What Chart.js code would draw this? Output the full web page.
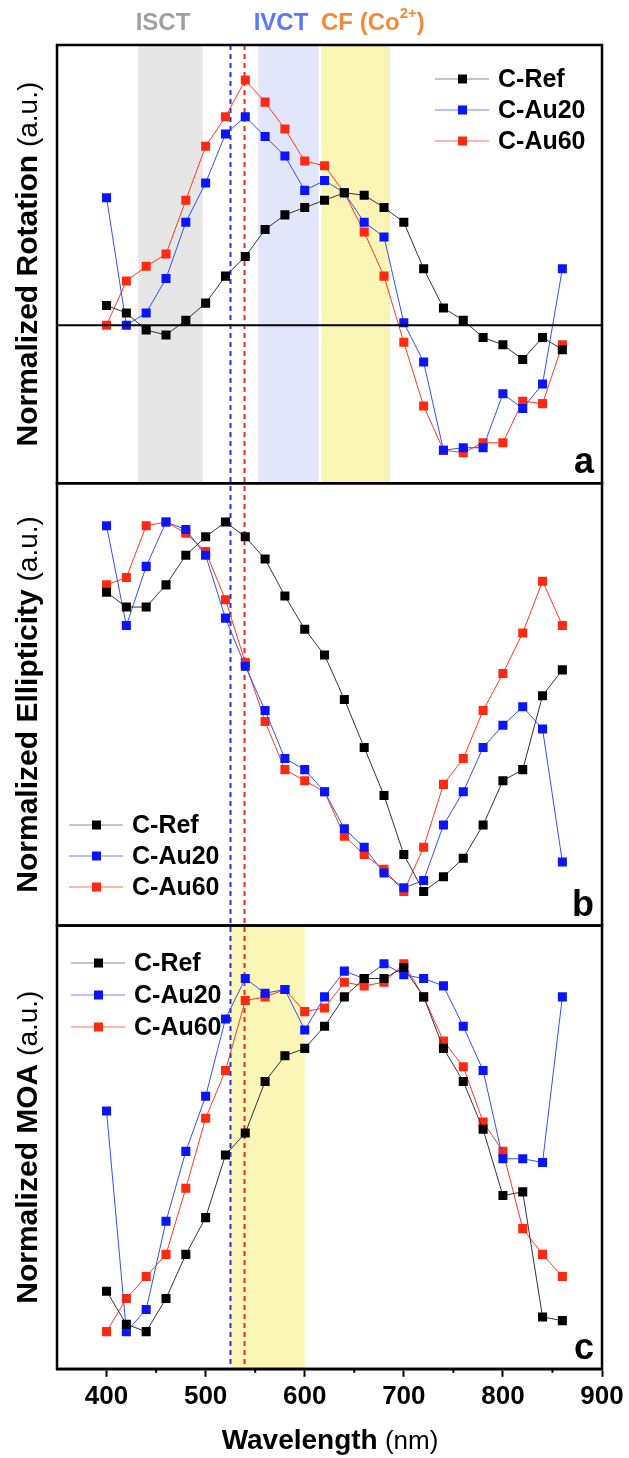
<!DOCTYPE html>
<html>
<head>
<meta charset="utf-8">
<script src="https://cdn.jsdelivr.net/npm/chart.js@4.4.1/dist/chart.umd.min.js"></script>
<style>
  html, body { margin: 0; padding: 0; background: #fff; }
  #wrap { width: 629px; height: 1458px; }
</style>
</head>
<body>
<div id="wrap"><canvas id="moaChart" width="629" height="1458"></canvas></div>
<script>
// wavelength grid (nm)
const wavelengths = [400, 420, 440, 460, 480, 500, 520, 540, 560, 580, 600, 620,
                     640, 660, 680, 700, 720, 740, 760, 780, 800, 820, 840, 860];

// (a) normalized rotation
const rotRef  = [0.08, 0.05, -0.02, -0.04, 0.02, 0.09, 0.20, 0.28, 0.39, 0.45, 0.48, 0.51,
                 0.54, 0.53, 0.48, 0.42, 0.23, 0.07, 0.02, -0.05, -0.08, -0.14, -0.05, -0.10];
const rotAu20 = [0.52, 0.00, 0.05, 0.19, 0.42, 0.58, 0.78, 0.85, 0.77, 0.69, 0.55, 0.59,
                 0.54, 0.42, 0.36, 0.01, -0.15, -0.51, -0.50, -0.50, -0.28, -0.34, -0.24, 0.23];
const rotAu60 = [0.00, 0.18, 0.24, 0.29, 0.51, 0.73, 0.85, 1.00, 0.91, 0.80, 0.67, 0.65,
                 0.54, 0.38, 0.20, -0.07, -0.33, -0.51, -0.52, -0.48, -0.48, -0.31, -0.32, -0.08];

// (b) normalized ellipticity
const ellRef  = [0.81, 0.77, 0.77, 0.83, 0.91, 0.96, 1.00, 0.96, 0.90, 0.80, 0.71, 0.64,
                 0.52, 0.39, 0.26, 0.10, 0.00, 0.04, 0.09, 0.18, 0.30, 0.33, 0.53, 0.60];
const ellAu20 = [0.99, 0.72, 0.88, 1.00, 0.98, 0.91, 0.74, 0.61, 0.49, 0.36, 0.33, 0.27,
                 0.17, 0.12, 0.05, 0.01, 0.03, 0.18, 0.27, 0.39, 0.45, 0.50, 0.44, 0.08];
const ellAu60 = [0.83, 0.85, 0.99, 1.00, 0.97, 0.92, 0.79, 0.62, 0.46, 0.33, 0.30, 0.27,
                 0.15, 0.10, 0.06, 0.00, 0.12, 0.29, 0.36, 0.49, 0.59, 0.70, 0.84, 0.72];

// (c) normalized MOA
const moaRef  = [0.11, 0.02, 0.00, 0.09, 0.21, 0.31, 0.48, 0.54, 0.68, 0.75, 0.77, 0.83,
                 0.91, 0.96, 0.96, 0.99, 0.91, 0.77, 0.68, 0.55, 0.37, 0.38, 0.04, 0.03];
const moaAu20 = [0.60, 0.00, 0.06, 0.30, 0.49, 0.64, 0.85, 0.96, 0.92, 0.93, 0.82, 0.91,
                 0.98, 0.96, 1.00, 0.97, 0.96, 0.94, 0.83, 0.71, 0.47, 0.47, 0.46, 0.91];
const moaAu60 = [0.00, 0.09, 0.15, 0.21, 0.39, 0.58, 0.71, 0.90, 0.91, 0.93, 0.87, 0.88,
                 0.95, 0.94, 0.95, 1.00, 0.91, 0.79, 0.72, 0.57, 0.49, 0.28, 0.21, 0.15];

const seriesNames = ["C-Ref", "C-Au20", "C-Au60"];

// shaded transition regions (nm)
const bandsA = [[432, 497], [553, 614], [617, 686]];
const bandsC = [[525, 600]];
// dashed guide wavelengths (nm)
const guideLines = [525, 539];

const xTickValues = [400, 500, 600, 700, 800, 900];

const FONT = '"Liberation Sans", Arial, sans-serif';
const lineColors = ["#333333", "#3050ff", "#ff3a24"];
const markColors = ["#000000", "#0a14ff", "#ff2a10"];
const legendLineColors = ["#8a8a8a", "#6f86ff", "#ff6a5a"];

function pts(vals) {
  return wavelengths.map((w, i) => ({ x: w, y: vals[i] }));
}

function makeSet(label, vals, k, axis) {
  return {
    label: label,
    data: pts(vals),
    yAxisID: axis,
    borderColor: lineColors[k],
    borderWidth: 1,
    backgroundColor: markColors[k],
    pointBackgroundColor: markColors[k],
    pointBorderColor: markColors[k],
    pointBorderWidth: 0,
    pointStyle: "rect",
    pointRadius: 6.4,
    tension: 0
  };
}

const datasets = [
  makeSet(seriesNames[0], rotRef, 0, "yA"),
  makeSet(seriesNames[1], rotAu20, 1, "yA"),
  makeSet(seriesNames[2], rotAu60, 2, "yA"),
  makeSet(seriesNames[0], ellRef, 0, "yB"),
  makeSet(seriesNames[1], ellAu20, 1, "yB"),
  makeSet(seriesNames[2], ellAu60, 2, "yB"),
  makeSet(seriesNames[0], moaRef, 0, "yC"),
  makeSet(seriesNames[1], moaAu20, 1, "yC"),
  makeSet(seriesNames[2], moaAu60, 2, "yC")
];

const panels = [
  { id: "yA", title: "Normalized Rotation", tag: "a", legend: { x: 435, y: 79, gap: 31 } },
  { id: "yB", title: "Normalized Ellipticity", tag: "b", legend: { x: 69, y: 825, gap: 31 } },
  { id: "yC", title: "Normalized MOA", tag: "c", legend: { x: 71, y: 963, gap: 32 } }
];

const decorPlugin = {
  id: "decor",
  beforeDatasetsDraw(chart) {
    const ctx = chart.ctx;
    const x = chart.scales.x;
    const yA = chart.scales.yA, yC = chart.scales.yC;
    const area = chart.chartArea;
    ctx.save();
    const bandColorsA = ["#e6e6e6", "#e1e6fa", "#faf5b4"];
    bandsA.forEach((b, i) => {
      const x0 = x.getPixelForValue(b[0]), x1 = x.getPixelForValue(b[1]);
      ctx.fillStyle = bandColorsA[i];
      ctx.fillRect(x0, yA.top, x1 - x0, yA.bottom - yA.top);
    });
    bandsC.forEach(b => {
      const x0 = x.getPixelForValue(b[0]), x1 = x.getPixelForValue(b[1]);
      ctx.fillStyle = "#faf6b6";
      ctx.fillRect(x0, yC.top, x1 - x0, yC.bottom - yC.top);
    });
    const guideColors = ["#2a35e0", "#ee2a22"];
    ctx.lineWidth = 2;
    ctx.setLineDash([5, 4]);
    guideLines.forEach((g, i) => {
      const gx = Math.round(x.getPixelForValue(g)) + 0.5;
      ctx.strokeStyle = guideColors[i];
      ctx.beginPath();
      ctx.moveTo(gx, area.top);
      ctx.lineTo(gx, area.bottom);
      ctx.stroke();
    });
    ctx.restore();
  },
  afterDatasetsDraw(chart) {
    const ctx = chart.ctx;
    const x = chart.scales.x;
    const area = chart.chartArea;
    ctx.save();

    // zero line in panel a
    const yA = chart.scales.yA;
    const z = yA.getPixelForValue(0);
    ctx.strokeStyle = "#000";
    ctx.lineWidth = 2;
    ctx.beginPath();
    ctx.moveTo(area.left, z);
    ctx.lineTo(area.right, z);
    ctx.stroke();

    // minor ticks
    ctx.lineWidth = 2;
    for (let v = 450; v < 900; v += 100) {
      const px = x.getPixelForValue(v);
      ctx.beginPath();
      ctx.moveTo(px, area.bottom);
      ctx.lineTo(px, area.bottom + 4);
      ctx.stroke();
    }

    panels.forEach(p => {
      const s = chart.scales[p.id];
      // frame
      ctx.strokeStyle = "#000";
      ctx.lineWidth = 2.5;
      ctx.strokeRect(area.left, s.top, area.right - area.left, s.bottom - s.top);

      // panel tag
      ctx.fillStyle = "#000";
      ctx.font = "bold 36px " + FONT;
      ctx.textAlign = "right";
      ctx.textBaseline = "alphabetic";
      ctx.fillText(p.tag, area.right - 8, s.bottom - 10);

      // legend
      const lg = p.legend;
      ctx.font = "bold 25px " + FONT;
      ctx.textAlign = "left";
      ctx.textBaseline = "middle";
      seriesNames.forEach((name, k) => {
        const ly = lg.y + k * lg.gap;
        ctx.strokeStyle = legendLineColors[k];
        ctx.lineWidth = 1.2;
        ctx.beginPath();
        ctx.moveTo(lg.x, ly);
        ctx.lineTo(lg.x + 54, ly);
        ctx.stroke();
        ctx.fillStyle = markColors[k];
        ctx.fillRect(lg.x + 23, ly - 4.5, 9, 9);
        ctx.fillStyle = "#000";
        ctx.fillText(name, lg.x + 63, ly + 1);
      });

      // y title (bold + regular part)
      const cy = (s.top + s.bottom) / 2;
      ctx.save();
      ctx.translate(37, cy);
      ctx.rotate(-Math.PI / 2);
      ctx.font = "bold 30px " + FONT;
      const w1 = ctx.measureText(p.title).width;
      ctx.font = "28px " + FONT;
      const w2 = ctx.measureText(" (a.u.)").width;
      const start = -(w1 + w2) / 2;
      ctx.fillStyle = "#000";
      ctx.textAlign = "left";
      ctx.textBaseline = "alphabetic";
      ctx.font = "bold 30px " + FONT;
      ctx.fillText(p.title, start, 0);
      ctx.font = "28px " + FONT;
      ctx.fillText(" (a.u.)", start + w1, 0);
      ctx.restore();
    });

    // x title
    ctx.font = "bold 28px " + FONT;
    const t1 = ctx.measureText("Wavelength").width;
    ctx.font = "26px " + FONT;
    const t2 = ctx.measureText(" (nm)").width;
    const tx = 330 - (t1 + t2) / 2;
    ctx.fillStyle = "#000";
    ctx.textAlign = "left";
    ctx.textBaseline = "middle";
    ctx.font = "bold 28px " + FONT;
    ctx.fillText("Wavelength", tx, 1441);
    ctx.font = "26px " + FONT;
    ctx.fillText(" (nm)", tx + t1, 1442);

    // transition labels above panel a
    ctx.font = "bold 24px " + FONT;
    ctx.textBaseline = "middle";
    ctx.textAlign = "center";
    ctx.fillStyle = "#a0a0a0";
    ctx.fillText("ISCT", 163, 23);
    ctx.fillStyle = "#5a78f5";
    ctx.fillText("IVCT", 281, 23);
    ctx.fillStyle = "#f28a3c";
    ctx.textAlign = "left";
    let cx = 321;
    ctx.fillText("CF (Co", cx, 23);
    cx += ctx.measureText("CF (Co").width;
    ctx.font = "bold 15px " + FONT;
    ctx.fillText("2+", cx, 14);
    cx += ctx.measureText("2+").width;
    ctx.font = "bold 24px " + FONT;
    ctx.fillText(")", cx, 23);

    ctx.restore();
  }
};

new Chart(document.getElementById("moaChart"), {
  type: "line",
  data: { datasets: datasets },
  options: {
    responsive: false,
    animation: false,
    layout: { padding: { left: 57, right: 27, top: 45, bottom: 42 } },
    plugins: { legend: { display: false }, tooltip: { enabled: false } },
    scales: {
      x: {
        type: "linear",
        min: 350,
        max: 900,
        afterBuildTicks: (scale) => {
          const t = [];
          for (let v = 350; v <= 900; v += 50) t.push({ value: v });
          scale.ticks = t;
        },
        ticks: {
          autoSkip: false,
          maxRotation: 0,
          padding: 4,
          color: "#000",
          font: { family: FONT, size: 26, weight: "bold" },
          callback: (v) => (xTickValues.includes(v) ? String(v) : "")
        },
        grid: {
          drawOnChartArea: false,
          tickLength: 8,
          tickWidth: 2,
          tickColor: (c) => (c.tick && xTickValues.includes(c.tick.value) ? "#000" : "rgba(0,0,0,0)")
        },
        border: { display: true, color: "#000", width: 2.5 }
      },
      yA: { type: "linear", display: false, stack: "panels", stackWeight: 438, weight: 3, min: -0.645, max: 1.143 },
      yB: { type: "linear", display: false, stack: "panels", stackWeight: 442, weight: 2, min: -0.092, max: 1.105 },
      yC: { type: "linear", display: false, stack: "panels", stackWeight: 443, weight: 1, min: -0.101, max: 1.104 }
    }
  },
  plugins: [decorPlugin]
});
</script>
</body>
</html>
